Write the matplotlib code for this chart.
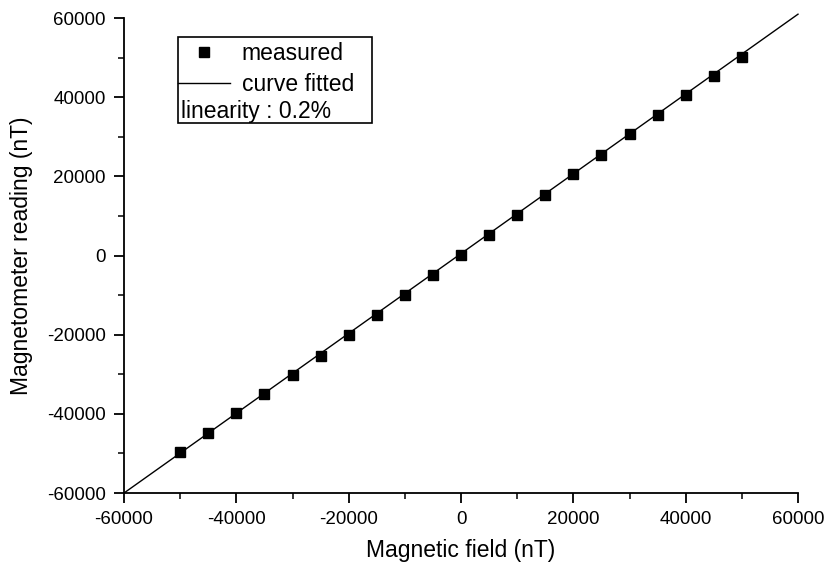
import numpy as np
import matplotlib.pyplot as plt
from matplotlib.lines import Line2D
from matplotlib.patches import Rectangle
from matplotlib.ticker import MultipleLocator

# applied field (nT) and magnetometer reading (nT)
field = [-50000, -45000, -40000, -35000, -30000, -25000, -20000, -15000,
         -10000, -5000, 0, 5000, 10000, 15000, 20000, 25000, 30000,
         35000, 40000, 45000, 50000]
reading = [-49700, -44800, -39800, -35100, -30300, -25300, -20100, -15100,
           -10000, -4900, 100, 5300, 10300, 15400, 20500, 25500, 30600,
           35500, 40500, 45400, 50300]

# fitted line
fit_x = [-60000, 60000]
fit_y = [-60000, 61000]

plt.rcParams['font.family'] = ['Liberation Sans', 'DejaVu Sans']
plt.rcParams['axes.unicode_minus'] = False

fig = plt.figure(figsize=(8.29, 5.67), dpi=100)
ax = fig.add_axes([0.1496, 0.1305, 0.8130, 0.8375])

ax.plot(fit_x, fit_y, color='black', lw=1.0, clip_on=False)
ax.plot(field, reading, ls='none', marker='s', ms=7, color='black')

ax.set_xlim(-60000, 60000)
ax.set_ylim(-60000, 60000)
ax.xaxis.set_major_locator(MultipleLocator(20000))
ax.xaxis.set_minor_locator(MultipleLocator(10000))
ax.yaxis.set_major_locator(MultipleLocator(20000))
ax.yaxis.set_minor_locator(MultipleLocator(10000))

for s in ['top', 'right']:
    ax.spines[s].set_visible(False)
for s in ['left', 'bottom']:
    ax.spines[s].set_linewidth(1.3)

ax.tick_params(which='major', direction='out', length=7, width=1.3,
               labelsize=13.5, pad=6)
ax.tick_params(which='minor', direction='out', length=4, width=1.1)

ax.set_xlabel('Magnetic field (nT)', fontsize=16.5, labelpad=8)
ax.set_ylabel('Magnetometer reading (nT)', fontsize=16.5, labelpad=10)

# legend box with an extra note row
ax.add_patch(Rectangle((0.080, 0.779), 0.288, 0.181, transform=ax.transAxes,
                       fill=False, edgecolor='black', lw=1.2, zorder=5))
handles = [Line2D([], [], ls='none', marker='s', ms=7, color='black'),
           Line2D([], [], color='black', lw=1.0)]
ax.legend(handles, ['measured', 'curve fitted'], loc='upper left',
          bbox_to_anchor=(0.080, 0.949), frameon=False, fontsize=16.5,
          handlelength=2.27, handletextpad=0.52, labelspacing=0.35,
          borderpad=0, borderaxespad=0)
ax.text(0.0846, 0.804, 'linearity : 0.2%', transform=ax.transAxes,
        fontsize=16.5, va='center', ha='left')

fig.savefig('out.png', dpi=100)
